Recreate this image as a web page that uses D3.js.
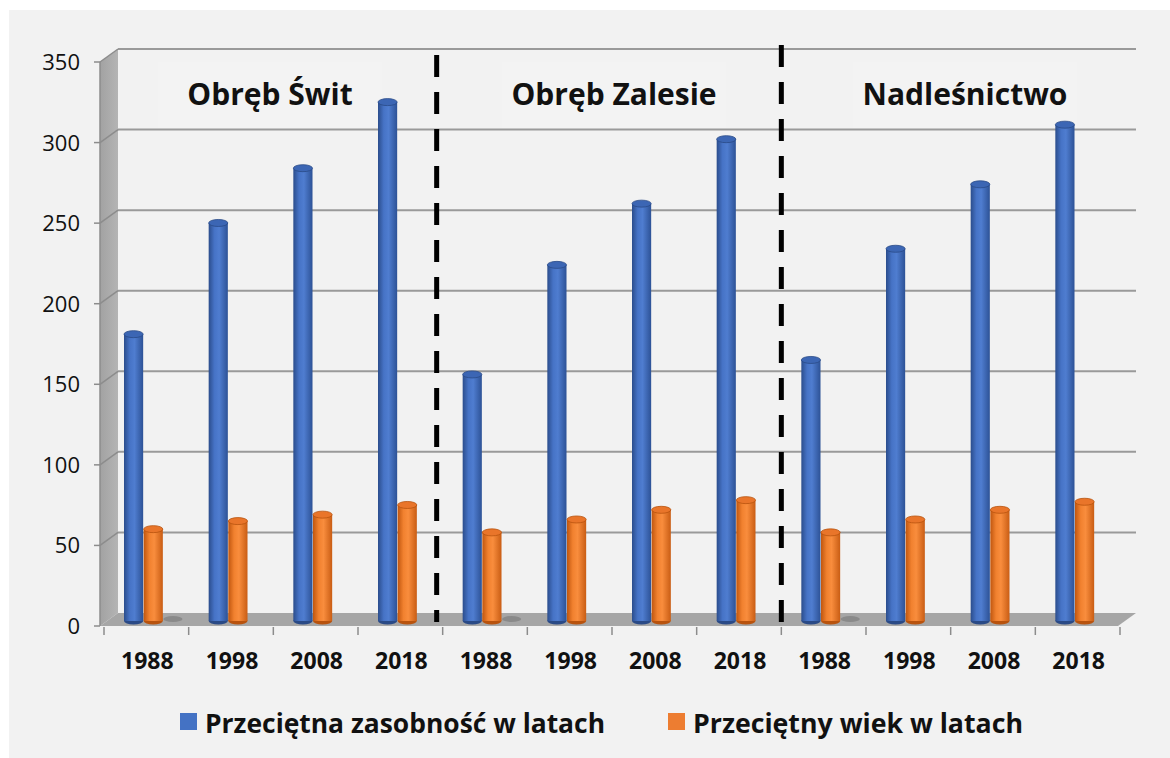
<!DOCTYPE html>
<html>
<head>
<meta charset="utf-8">
<script src="https://cdn.jsdelivr.net/npm/d3@7/dist/d3.min.js"></script>
<style>
  body { margin: 0; background: #fff; }
  text { font-family: "Open Sans", "Noto Sans", sans-serif; }
</style>
</head>
<body>
<div id="chart"></div>
<script>
// data
var years = ["1988", "1998", "2008", "2018", "1988", "1998", "2008", "2018", "1988", "1998", "2008", "2018"];
var zasobnosc = [178, 247, 281, 322, 153, 221, 259, 299, 162, 231, 271, 308];
var wiek = [57, 62, 66, 72, 55, 63, 69, 75, 55, 63, 69, 74];
var shadow = [0, null, null, null, 0, null, null, null, 0, null, null, null];
var groups = ["Obręb Świt", "Obręb Zalesie", "Nadleśnictwo"];
var yTicks = [0, 50, 100, 150, 200, 250, 300, 350];
var seriesNames = ["Przeciętna zasobność w latach", "Przeciętny wiek w latach"];

var width = 1170, height = 758;
var depthX = 18, depthY = -13;   // 3d offset of the back wall

var svg = d3.select("#chart").append("svg")
  .attr("width", width)
  .attr("height", height);

svg.append("rect")
  .attr("x", 9).attr("y", 10)
  .attr("width", width - 9).attr("height", height - 10)
  .attr("fill", "#f2f2f2");

var idx = d3.range(years.length);
var x = d3.scaleBand().domain(idx).range([104, 1120]);
var inner = d3.scaleBand().domain([0, 1, 2]).range([20, 79]);
var y = d3.scaleLinear().domain([0, 350]).range([626, 62]);

var defs = svg.append("defs");
function cylGrad(id, stops) {
  var g = defs.append("linearGradient").attr("id", id)
    .attr("x1", "0%").attr("x2", "100%").attr("y1", "0%").attr("y2", "0%");
  stops.forEach(function (s) {
    g.append("stop").attr("offset", s[0]).attr("stop-color", s[1]);
  });
}
cylGrad("blueG", [["0%", "#2b4d8c"], ["30%", "#4673c6"], ["55%", "#4f7dd0"], ["100%", "#2d5296"]]);
cylGrad("orangeG", [["0%", "#c0560f"], ["30%", "#f1812f"], ["55%", "#f98d3d"], ["100%", "#c95d14"]]);
cylGrad("wallG", [["0%", "#a2a2a2"], ["100%", "#b4b4b4"]]);

// left side wall
svg.append("path")
  .attr("d", "M" + [x.range()[0] - 4, y(0)] + "L" + [x.range()[0] - 4, y(350)] +
    "L" + [x.range()[0] - 4 + depthX, y(350) + depthY] + "L" + [x.range()[0] - 4 + depthX, y(0) + depthY] + "Z")
  .attr("fill", "url(#wallG)");

// floor
svg.append("path")
  .attr("d", "M" + [x.range()[0] - 4, y(0)] + "L" + [x.range()[1] - 2, y(0)] +
    "L" + [x.range()[1] - 2 + depthX, y(0) + depthY] + "L" + [x.range()[0] - 4 + depthX, y(0) + depthY] + "Z")
  .attr("fill", "#a6a6a6");

// gridlines on the back wall
svg.append("g").selectAll("line")
  .data(yTicks.filter(function (d) { return d > 0; }))
  .enter().append("line")
  .attr("x1", x.range()[0] - 4 + depthX)
  .attr("x2", x.range()[1] - 2 + depthX)
  .attr("y1", function (d) { return y(d) + depthY; })
  .attr("y2", function (d) { return y(d) + depthY; })
  .attr("stroke", "#9a9a9a")
  .attr("stroke-width", 2);

// diagonal gridline ends on the left wall
svg.append("g").selectAll("line")
  .data(yTicks.filter(function (d) { return d > 0; }))
  .enter().append("line")
  .attr("x1", x.range()[0] - 4)
  .attr("x2", x.range()[0] - 4 + depthX)
  .attr("y1", function (d) { return y(d); })
  .attr("y2", function (d) { return y(d) + depthY; })
  .attr("stroke", "#8c8c8c")
  .attr("stroke-width", 1.5);

// title boxes, barely lighter than the wall
var groupCenters = [270, 614, 965];
svg.append("g").selectAll("rect")
  .data(groups)
  .enter().append("rect")
  .attr("x", function (d, i) { return groupCenters[i] - 112; })
  .attr("y", 62)
  .attr("width", 224)
  .attr("height", 66)
  .attr("fill", "#f6f6f6")
  .attr("opacity", 0.35);

svg.append("g").selectAll("text")
  .data(groups)
  .enter().append("text")
  .attr("x", function (d, i) { return groupCenters[i]; })
  .attr("y", 105)
  .attr("text-anchor", "middle")
  .attr("font-size", 30)
  .attr("font-weight", "bold")
  .attr("fill", "#111")
  .text(function (d) { return d; });

// y axis ticks and labels
var yAxis = svg.append("g");
yAxis.append("line")
  .attr("x1", x.range()[0] - 4).attr("x2", x.range()[0] - 4)
  .attr("y1", y(0)).attr("y2", y(350))
  .attr("stroke", "#8c8c8c").attr("stroke-width", 1.5);
yAxis.selectAll(".tk").data(yTicks).enter().append("line")
  .attr("x1", x.range()[0] - 10).attr("x2", x.range()[0] - 4)
  .attr("y1", function (d) { return y(d); })
  .attr("y2", function (d) { return y(d); })
  .attr("stroke", "#8c8c8c").attr("stroke-width", 1.5);
yAxis.selectAll("text").data(yTicks).enter().append("text")
  .attr("x", 80)
  .attr("y", function (d) { return y(d) + 8; })
  .attr("text-anchor", "end")
  .attr("font-size", 22)
  .attr("fill", "#111")
  .text(function (d) { return d; });

// x axis ticks and labels
var xAxis = svg.append("g");
xAxis.selectAll("line").data(idx.concat([years.length])).enter().append("line")
  .attr("x1", function (d) { return d < years.length ? x(d) : x.range()[1]; })
  .attr("x2", function (d) { return d < years.length ? x(d) : x.range()[1]; })
  .attr("y1", y(0) + 1).attr("y2", y(0) + 9)
  .attr("stroke", "#8c8c8c").attr("stroke-width", 1.5);
xAxis.selectAll("text").data(idx).enter().append("text")
  .attr("x", function (d) { return x(d) + x.bandwidth() / 2 + 1; })
  .attr("y", 669)
  .attr("text-anchor", "middle")
  .attr("font-size", 23)
  .attr("font-weight", "bold")
  .attr("fill", "#111")
  .text(function (d) { return years[d]; });

// shadow spots of the empty third series
var barW = inner.bandwidth() - 0.5;
var base = y(0) - 5;
svg.append("g").selectAll("ellipse")
  .data(idx.filter(function (i) { return shadow[i] !== null; }))
  .enter().append("ellipse")
  .attr("cx", function (i) { return x(i) + inner(2) + barW / 2; })
  .attr("cy", base - 2)
  .attr("rx", barW / 2)
  .attr("ry", 3)
  .attr("fill", "#8a8a8a");

// cylinders
function drawCyl(values, s, grad, topFill, edge) {
  var g = svg.append("g");
  var sel = g.selectAll("g").data(idx).enter().append("g");
  var ry = 3.5;
  sel.append("ellipse")
    .attr("cx", function (i) { return x(i) + inner(s) + barW / 2; })
    .attr("cy", base)
    .attr("rx", barW / 2).attr("ry", ry)
    .attr("fill", edge);
  sel.append("rect")
    .attr("x", function (i) { return x(i) + inner(s); })
    .attr("y", function (i) { return y(values[i]) - 5; })
    .attr("width", barW)
    .attr("height", function (i) { return base - (y(values[i]) - 5); })
    .attr("fill", "url(#" + grad + ")");
  sel.append("ellipse")
    .attr("cx", function (i) { return x(i) + inner(s) + barW / 2; })
    .attr("cy", function (i) { return y(values[i]) - 5; })
    .attr("rx", barW / 2).attr("ry", ry)
    .attr("fill", topFill)
    .attr("stroke", edge)
    .attr("stroke-width", 0.8);
}
drawCyl(zasobnosc, 0, "blueG", "#3c66b4", "#2a4a86");
drawCyl(wiek, 1, "orangeG", "#e9752a", "#b8530e");

// dashed separators between the groups
var dividers = [{ after: 4, shift: -6, top: 55, bottom: 622 }, { after: 8, shift: 0, top: 45, bottom: 630 }];
svg.append("g").selectAll("line")
  .data(dividers)
  .enter().append("line")
  .attr("x1", function (d) { return x(d.after) + d.shift; })
  .attr("x2", function (d) { return x(d.after) + d.shift; })
  .attr("y1", function (d) { return d.top; })
  .attr("y2", function (d) { return d.bottom; })
  .attr("stroke", "#000")
  .attr("stroke-width", 5)
  .attr("stroke-dasharray", "22,15");

// legend
var legendX = [180, 668];
var legendLen = [400, 330];
var legendColors = ["#4472c4", "#ed7d31"];
var lg = svg.append("g").selectAll("g")
  .data(seriesNames)
  .enter().append("g")
  .attr("transform", function (d, i) { return "translate(" + legendX[i] + ",713)"; });
lg.append("rect")
  .attr("width", 17).attr("height", 17)
  .attr("fill", function (d, i) { return legendColors[i]; });
lg.append("text")
  .attr("x", 25).attr("y", 20)
  .attr("font-size", 26)
  .attr("font-weight", "bold")
  .attr("fill", "#111")
  .attr("textLength", function (d, i) { return legendLen[i]; })
  .attr("lengthAdjust", "spacingAndGlyphs")
  .text(function (d) { return d; });
</script>
</body>
</html>
